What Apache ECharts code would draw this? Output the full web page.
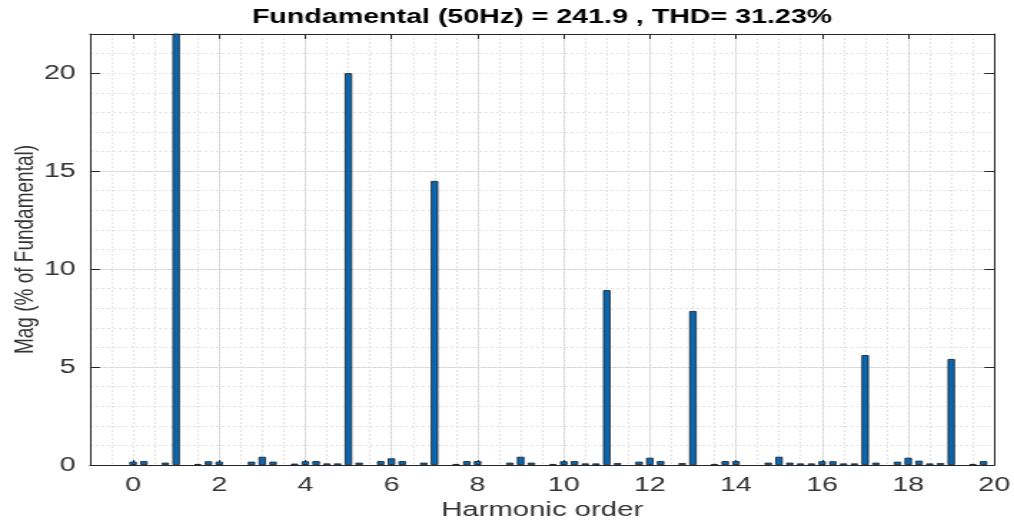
<!DOCTYPE html>
<html>
<head>
<meta charset="utf-8">
<script src="https://cdn.jsdelivr.net/npm/echarts@6/dist/echarts.min.js"></script>
<style>
  html, body { margin: 0; padding: 0; background: #fff; overflow: hidden; }
  #chart { width: 709px; height: 523px; transform: scaleX(1.4302); transform-origin: 0 0; }
</style>
</head>
<body>
<div id="chart"></div>
<script>
// ---- data ----
const titleText = 'Fundamental (50Hz) = 241.9 , THD= 31.23%';
const xName = 'Harmonic order';
const yName = 'Mag (% of Fundamental)';
const xTicks = [0, 2, 4, 6, 8, 10, 12, 14, 16, 18, 20];
const yTicks = [0, 5, 10, 15, 20];
const harmonicOrder = [
  0, 0.25, 0.75, 1, 1.5, 1.75, 2, 2.75, 3, 3.25, 3.75, 4, 4.25, 4.5, 4.75, 5,
  5.25, 5.75, 6, 6.25, 6.75, 7, 7.5, 7.75, 8, 8.75, 9, 9.25, 9.75, 10, 10.25,
  10.5, 10.75, 11, 11.25, 11.75, 12, 12.25, 12.75, 13, 13.5, 13.75, 14, 14.75,
  15, 15.25, 15.5, 15.75, 16, 16.25, 16.5, 16.75, 17, 17.25, 17.75, 18, 18.25,
  18.5, 18.75, 19, 19.5, 19.75
];
const magnitude = [
  0.17, 0.2, 0.12, 100, 0.05, 0.19, 0.17, 0.17, 0.42, 0.17, 0.07, 0.19, 0.2, 0.08, 0.08, 20.0,
  0.12, 0.2, 0.34, 0.2, 0.12, 14.5, 0.05, 0.2, 0.2, 0.12, 0.42, 0.12, 0.05, 0.19, 0.2,
  0.08, 0.08, 8.93, 0.1, 0.17, 0.37, 0.2, 0.1, 7.86, 0.05, 0.2, 0.2, 0.12,
  0.42, 0.12, 0.08, 0.08, 0.19, 0.19, 0.08, 0.08, 5.61, 0.12, 0.17, 0.37, 0.22,
  0.08, 0.1, 5.41, 0.05, 0.2
];

const FONT = '"Liberation Sans", Arial, Helvetica, sans-serif';
const AX = '#262626';
const xMin = -1, xMax = 20, yMin = 0, yMax = 22;

const chart = echarts.init(document.getElementById('chart'), null, { renderer: 'canvas' });

const baseX = { type: 'value', min: xMin, max: xMax, interval: 0.5, gridIndex: 0 };
const baseY = { type: 'value', min: yMin, max: yMax, interval: 1, gridIndex: 0 };

chart.setOption({
  backgroundColor: '#fff',
  animation: false,
  title: {
    text: titleText,
    left: 379, top: 7, padding: 0, textAlign: 'center',
    textStyle: { fontFamily: FONT, fontSize: 20, fontWeight: 'bold', color: '#000' }
  },
  grid: { left: 62.93, right: 13.77, top: 34, bottom: 58, containLabel: false, outerBoundsMode: 'none' },
  xAxis: [
    Object.assign({}, baseX, {
      position: 'bottom',
      name: xName, nameLocation: 'middle', nameGap: 35, nameMoveOverlap: false,
      nameTextStyle: { fontFamily: FONT, fontSize: 20.5, color: '#333' },
      axisLine: { show: true, onZero: false, lineStyle: { color: AX, width: 1 } },
      axisTick: { show: true, inside: true, length: 5, customValues: xTicks, lineStyle: { color: AX } },
      axisLabel: { show: true, customValues: xTicks, margin: 10, fontFamily: FONT, fontSize: 20, color: '#333' },
      splitLine: { show: true, showMinLine: false, showMaxLine: false, lineStyle: { color: '#d6d6d6', width: 1, type: 'solid' } }
    }),
    Object.assign({}, baseX, {
      position: 'top',
      axisLine: { show: true, onZero: false, lineStyle: { color: AX, width: 1 } },
      axisTick: { show: true, inside: true, length: 5, customValues: xTicks, lineStyle: { color: AX } },
      axisLabel: { show: false },
      splitLine: { show: false }
    }),
    Object.assign({}, baseX, {
      position: 'bottom',
      axisLine: { show: false },
      axisTick: { show: false },
      axisLabel: { show: false },
      splitLine: { show: true, showMinLine: false, showMaxLine: false, lineStyle: { color: '#e2e2e2', width: 1, type: [2, 2] } }
    })
  ],
  yAxis: [
    Object.assign({}, baseY, {
      position: 'left',
      name: yName, nameLocation: 'middle', nameGap: 36, nameMoveOverlap: false,
      nameTextStyle: { fontFamily: FONT, fontSize: 19, color: '#333' },
      axisLine: { show: true, onZero: false, lineStyle: { color: AX, width: 1 } },
      axisTick: { show: true, inside: true, length: 7, customValues: yTicks, lineStyle: { color: AX } },
      axisLabel: { show: true, customValues: yTicks, margin: 10, fontFamily: FONT, fontSize: 20, color: '#333' },
      splitLine: { show: true, showMinLine: false, showMaxLine: false, lineStyle: { color: '#d6d6d6', width: 1, type: 'solid' } }
    }),
    Object.assign({}, baseY, {
      position: 'right',
      axisLine: { show: true, onZero: false, lineStyle: { color: AX, width: 1 } },
      axisTick: { show: true, inside: true, length: 7, customValues: yTicks, lineStyle: { color: AX } },
      axisLabel: { show: false },
      splitLine: { show: false }
    }),
    Object.assign({}, baseY, {
      position: 'left',
      axisLine: { show: false },
      axisTick: { show: false },
      axisLabel: { show: false },
      splitLine: { show: true, showMinLine: false, showMaxLine: false, lineStyle: { color: '#e2e2e2', width: 1, type: [2, 2] } }
    })
  ],
  series: [{
    type: 'bar',
    xAxisIndex: 0, yAxisIndex: 0,
    barWidth: 5.2,
    clip: true,
    itemStyle: { color: '#0b66ad', borderColor: '#14202c', borderWidth: 0.8 },
    data: harmonicOrder.map((h, i) => [h, magnitude[i]])
  }]
});
</script>
</body>
</html>
